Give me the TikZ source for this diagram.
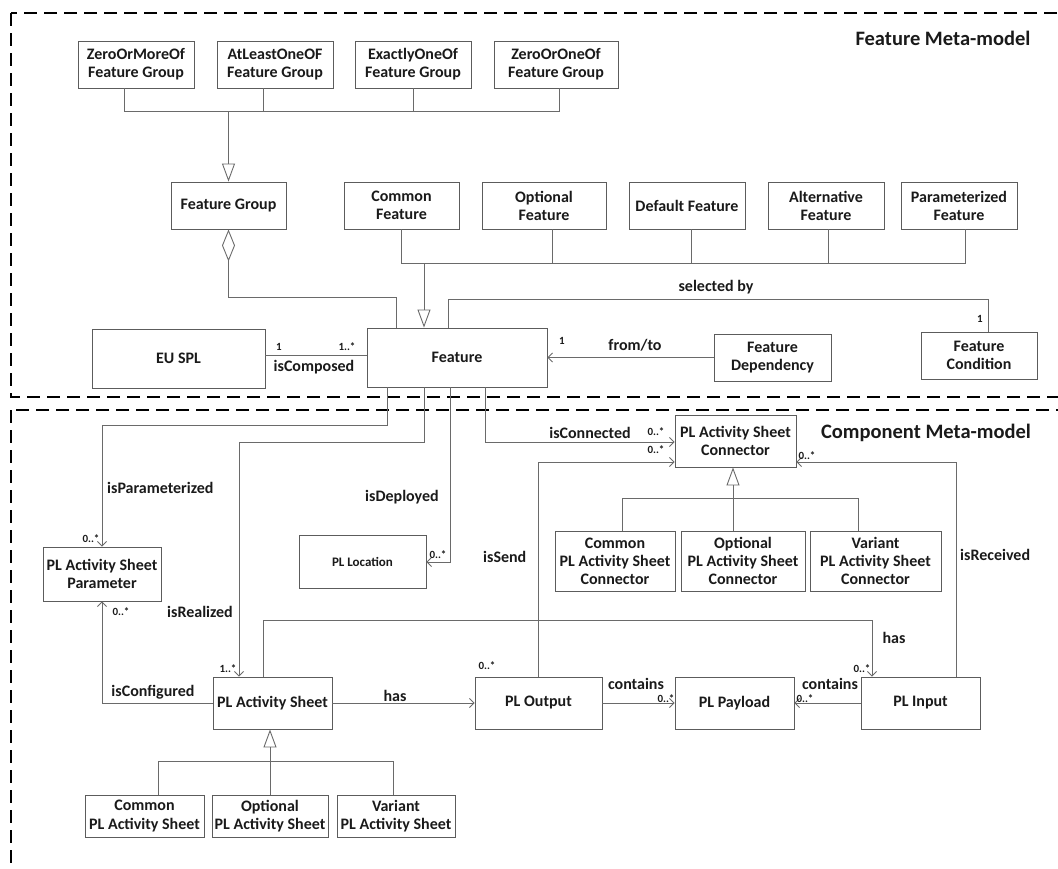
\documentclass[tikz,border=0pt]{standalone}
\usepackage{fontspec}
\setmainfont{Carlito}
\usetikzlibrary{arrows.meta}
\definecolor{ink}{HTML}{1A1A1A}
\definecolor{boxgray}{HTML}{5C5C5C}
\definecolor{linegray}{HTML}{6A6A6A}
\begin{document}
\begin{tikzpicture}[x=1pt,y=-1pt,
  box/.style={draw=boxgray, line width=0.9pt, fill=white, align=center, inner sep=1pt,
    text=ink, font=\bfseries\fontsize{16}{18}\selectfont},
  conn/.style={draw=linegray, line width=0.9pt},
  assoc/.style={conn, -{Straight Barb[length=4.5pt,width=9pt]}},
  gen/.style={conn, -{Triangle[open,length=18pt,width=13pt]}},
  agg/.style={conn, {Diamond[open,length=32pt,width=13pt]}-},
  lbl/.style={inner sep=0pt, text=ink, font=\bfseries\fontsize{16}{18}\selectfont},
  mult/.style={inner sep=0pt, text=ink, font=\bfseries\fontsize{11}{12}\selectfont},
  ttl/.style={inner sep=0pt, text=ink, font=\bfseries\fontsize{20.5}{24}\selectfont},
  frame/.style={draw=black, line width=2pt, dash pattern=on 13pt off 7pt}]
\useasboundingbox (0,0) rectangle (1058,868);

% package frames
\begin{scope}
  \clip (0,0) rectangle (1058,868);
  \draw[frame] (11,13) rectangle (1090,397);
  \draw[frame] (11,410) rectangle (1090,910);
\end{scope}
\node[ttl] (t1) at (943,38) {Feature Meta-model};
\node[ttl] (t2) at (926,433) {Component Meta-model};

% ---------- feature meta-model ----------
\node[box, minimum width=116, minimum height=47] (zm) at (136,64.5) {ZeroOrMoreOf\\Feature Group};
\node[box, minimum width=116, minimum height=47] (alo) at (275,64.5) {AtLeastOneOF\\Feature Group};
\node[box, minimum width=116, minimum height=47] (exo) at (413,64.5) {ExactlyOneOf\\Feature Group};
\node[box, minimum width=124, minimum height=47] (zoo) at (556,64.5) {ZeroOrOneOf\\Feature Group};

\node[box, minimum width=115, minimum height=47] (fg) at (228.5,205.5) {Feature Group};
\node[box, minimum width=115, minimum height=47] (cf) at (401.5,205.5) {Common\\Feature};
\node[box, minimum width=124, minimum height=47] (of) at (544,205.5) {Optional\\Feature};
\node[box, minimum width=116, minimum height=47] (df) at (687,205.5) {Default Feature};
\node[box, minimum width=116, minimum height=47] (af) at (826,205.5) {Alternative\\Feature};
\node[box, minimum width=116, minimum height=47] (pf) at (959,205.5) {Parameterized\\Feature};

\node[box, minimum width=180, minimum height=59] (ft) at (457,357.5) {Feature};
\node[box, minimum width=173, minimum height=59] (eu) at (178.5,358.5) {EU SPL};
\node[box, minimum width=117, minimum height=47] (fd) at (772.5,357.5) {Feature\\Dependency};
\node[box, minimum width=116, minimum height=47] (fc) at (979,355.5) {Feature\\Condition};

% group kinds specialise Feature Group
\coordinate (bar1) at (228.5,111);
\draw[conn] ([xshift=-12pt]zm.south) |- (bar1);
\draw[conn] ([xshift=-12pt]alo.south) |- (bar1);
\draw[conn] (exo.south) |- (bar1);
\draw[conn] ([xshift=3pt]zoo.south) |- (bar1);
\draw[gen] (bar1) -- (fg.north);

% feature kinds specialise Feature
\coordinate (bar2) at (424,263);
\draw[conn] (cf.south) |- (bar2);
\draw[conn] ([xshift=8pt]of.south) |- (bar2);
\draw[conn] ([xshift=4pt]df.south) |- (bar2);
\draw[conn] ([xshift=2pt]af.south) |- (bar2);
\draw[conn] ([xshift=6pt]pf.south) |- (bar2);
\draw[gen] (bar2) -- (bar2 |- ft.north);

% aggregation Feature Group - Feature
\coordinate (ag) at (396,297);
\draw[agg] (fg.south) |- (ag) -- (ag |- ft.north);

% selected by
\coordinate (sb1) at (448,299);
\coordinate (sb2) at (988,299);
\draw[conn] (sb1 |- ft.north) -- (sb1) -- (sb2) -- (sb2 |- fc.north);
\node[lbl] (lsb) at (716,287) {selected by};
\node[mult] (msb) at (980,319) {1};

% isComposed
\coordinate (ic) at ([yshift=3.5pt]eu.east);
\draw[conn] (ic) -- (ic -| ft.west);
\node[mult] (mic1) at (279,347) {1};
\node[mult] (mic2) at (347,347) {1..*};
\node[lbl] (lic) at (314,367) {isComposed};

% from/to
\draw[assoc] (fd.west) -- (fd.west -| ft.east);
\node[lbl] (lft) at (635,345) {from/to};
\node[mult] (mft) at (562,341) {1};

% ---------- component meta-model ----------
\node[box, minimum width=121, minimum height=52] (asc) at (735.5,441) {PL Activity Sheet\\Connector};
\node[box, minimum width=120, minimum height=60] (cc) at (615,561) {Common\\PL Activity Sheet\\Connector};
\node[box, minimum width=124, minimum height=60] (oc) at (743,561) {Optional\\PL Activity Sheet\\Connector};
\node[box, minimum width=131, minimum height=60] (vc) at (875.5,561) {Variant\\PL Activity Sheet\\Connector};
\node[box, minimum width=118, minimum height=54] (asp) at (102,574) {PL Activity Sheet\\Parameter};
\node[box, minimum width=127, minimum height=53, font=\bfseries\fontsize{13}{15}\selectfont] (loc) at (362.5,561.5) {PL Location};
\node[box, minimum width=119, minimum height=52] (as) at (272.5,703) {PL Activity Sheet};
\node[box, minimum width=127, minimum height=52] (out) at (538.5,703) {PL Output};
\node[box, minimum width=119, minimum height=52] (pay) at (734.5,703) {PL Payload};
\node[box, minimum width=119, minimum height=52] (inp) at (920.5,703) {PL Input};
\node[box, minimum width=119, minimum height=42] (cas) at (144.5,816) {Common\\PL Activity Sheet};
\node[box, minimum width=116, minimum height=42] (oas) at (270,816) {Optional\\PL Activity Sheet};
\node[box, minimum width=118, minimum height=42] (vas) at (396,816) {Variant\\PL Activity Sheet};

% connector kinds
\coordinate (cb) at (733,498);
\draw[conn] ([xshift=7pt]cc.north) |- (cb);
\draw[conn] ([xshift=-10pt]oc.north) |- (cb);
\draw[conn] ([xshift=-17.5pt]vc.north) |- (cb);
\draw[gen] (cb) -- (cb |- asc.south);

% activity sheet kinds
\coordinate (ab) at (270,761);
\draw[conn] ([xshift=13.5pt]cas.north) |- (ab);
\draw[conn] (oas.north) |- (ab);
\draw[conn] ([xshift=-3pt]vas.north) |- (ab);
\draw[gen] (ab) -- (ab |- as.south);

% isParameterized
\coordinate (p1) at (102,425);
\draw[assoc] ([xshift=-70pt]ft.south) |- (p1) -- (asp.north);
\node[lbl, anchor=west] (lpz) at (107,488) {isParameterized};
\node[mult] (mpz) at (91,539) {0..*};

% isRealized
\coordinate (r1) at (239,442);
\draw[assoc] ([xshift=-33pt]ft.south) |- (r1) -- (r1 |- as.north);
\node[lbl] (lrz) at (200,612) {isRealized};
\node[mult] (mrz) at (228,669) {1..*};

% isDeployed
\coordinate (d1) at (450,562);
\draw[assoc] ([xshift=-7pt]ft.south) -- (d1) -- (d1 -| loc.east);
\node[lbl] (ldp) at (402,497) {isDeployed};
\node[mult] (mdp) at (438,555) {0..*};

% isConnected
\draw[assoc] ([xshift=28pt]ft.south) |- ([yshift=-1pt]asc.west);
\node[lbl] (lcn) at (590,433) {isConnected};
\node[mult] (mcn) at (656,432) {0..*};

% isSend
\draw[assoc] (out.north) |- ([yshift=-21pt]asc.west);
\node[lbl, anchor=west] (lsd) at (483,557) {isSend};
\node[mult] (msd1) at (656,450) {0..*};
\node[mult] (msd2) at (487,666) {0..*};

% isReceived
\draw[assoc] ([xshift=35.5pt]inp.north) |- ([yshift=-21pt]asc.east);
\node[lbl, anchor=west] (lrc) at (960,555) {isReceived};
\node[mult] (mrc) at (807,456) {0..*};

% has (sheet to input)
\coordinate (h1) at (263,620);
\coordinate (h2) at (872,620);
\draw[assoc] (h1 |- as.north) -- (h1) -- (h2) -- (h2 |- inp.north);
\node[lbl] (lh1) at (894,638) {has};
\node[mult] (mh1) at (862,669) {0..*};

% isConfigured
\coordinate (cf1) at (102,703);
\draw[assoc] (as.west) -- (cf1) -- (asp.south);
\node[lbl] (lcf) at (153,692) {isConfigured};
\node[mult] (mcf) at (121,612) {0..*};

% has (sheet to output)
\draw[assoc] (as.east) -- (out.west);
\node[lbl] (lh2) at (395,696) {has};

% contains
\draw[assoc] (out.east) -- (pay.west);
\node[lbl] (lct1) at (636,684) {contains};
\node[mult] (mct1) at (666,698.5) {0..*};
\draw[assoc] (inp.west) -- (pay.east);
\node[lbl] (lct2) at (830,684) {contains};
\node[mult] (mct2) at (805,698.5) {0..*};
\end{tikzpicture}
\end{document}
